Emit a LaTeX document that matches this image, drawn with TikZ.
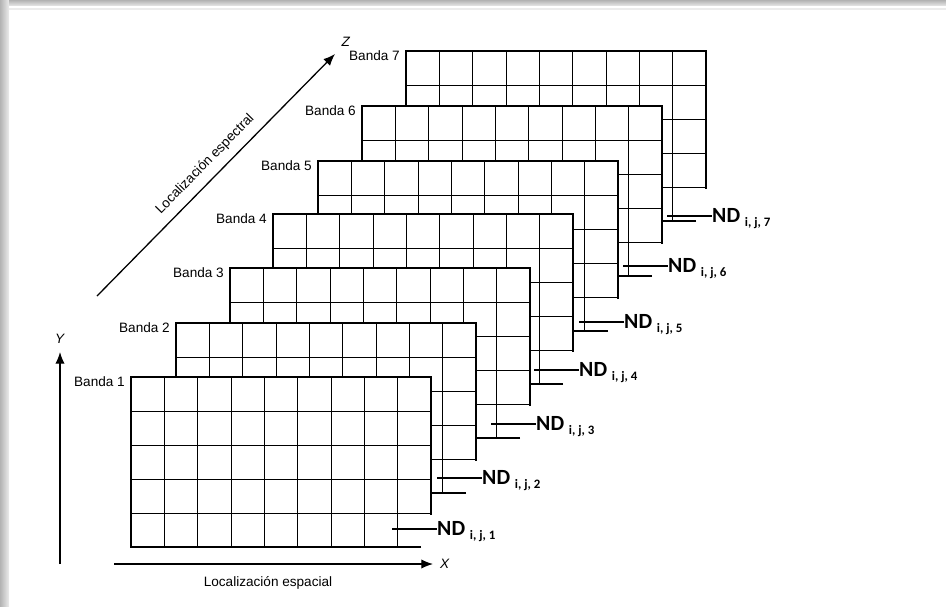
\documentclass[tikz,border=0pt]{standalone}
\usepackage{fontspec}
\setmainfont{Liberation Sans}
\newfontfamily\ndfont{Carlito}
\usetikzlibrary{arrows.meta}
\tikzset{gridl/.style={line width=0.8pt}}
\tikzset{edge/.style={line width=1.3pt}}
\tikzset{lead/.style={line width=1.1pt}}
\tikzset{lab/.style={font=\fontsize{11.6}{13}\selectfont, inner sep=0pt}}
\tikzset{nd/.style={font=\ndfont\bfseries, anchor=base west, inner sep=0pt}}
\tikzset{axis/.style={line width=1.1pt, -{Latex[length=10pt,width=8pt]}}}
\newcommand{\ndlab}[1]{{\fontsize{18.5}{20}\selectfont ND}\hspace{4pt}\raisebox{-3pt}{\fontsize{11}{12}\selectfont i, j, #1}}

\begin{document}
\begin{tikzpicture}[x=0.03cm, y=-0.03cm]
  \useasboundingbox (0,0) rectangle (946,606);
  % frame shadow
  \shade[left color=gray!60, right color=gray!15] (0,0) rectangle (9,606);
  \shade[top color=gray!60, bottom color=gray!25] (9,0) rectangle (946,5);
  \fill[gray!15] (9,8) rectangle (946,9.5);

  % bands, back to front
  \foreach \bnd/\x/\y/\ny in {7/406/51/216, 6/362/106/266, 5/318/161/322,
                             4/273/214/370, 3/230/268/424, 2/176/323/478, 1/131/377/529} {
    \fill[white] (\x,\y) rectangle ++(300,170);
    \foreach \i in {1,...,8}
      \draw[gridl] ({\x+\i*33.33},\y) -- ++(0,170);
    \foreach \j in {1,...,4}
      \draw[gridl] (\x,{\y+\j*34}) -- ++(300,0);
    \draw[edge] ({\x+290},{\y+170}) -- (\x,{\y+170}) -- (\x,\y) -- ({\x+300},\y) -- ({\x+300},{\y+138});
    \node[lab, anchor=east] (banda\bnd) at ({\x-6},{\y+5}) {Banda \bnd};
    \coordinate (nd\bnd a) at ({\x+261},\ny);
    \node[nd] (nd\bnd) at ({\x+306},{\ny+6.8}) {\ndlab{\bnd}};
    \draw[lead] (nd\bnd a) -- (nd\bnd a -| nd\bnd.west);
  }

  % axes
  \coordinate (yfoot) at (60,564);
  \coordinate (ytip) at (60,352);
  \node[lab] (ylab) at (60,339) {\textit{Y}};
  \draw[axis] (yfoot) -- (ytip);

  \coordinate (xfoot) at (114,564);
  \coordinate (xtip) at (433,564);
  \node[lab, anchor=west] (xlab) at (440,564) {\textit{X}};
  \draw[axis] (xfoot) -- (xtip);
  \node[lab] (xtitle) at (268,583) {Localización espacial};

  \coordinate (zfoot) at (97,296);
  \coordinate (ztip) at (335,54);
  \node[lab] (zlab) at (346,42) {\textit{Z}};
  \draw[axis] (zfoot) -- (ztip)
    node[lab, sloped, above=7pt, pos=0.5] (ztitle) {Localización espectral};
\end{tikzpicture}
\end{document}
